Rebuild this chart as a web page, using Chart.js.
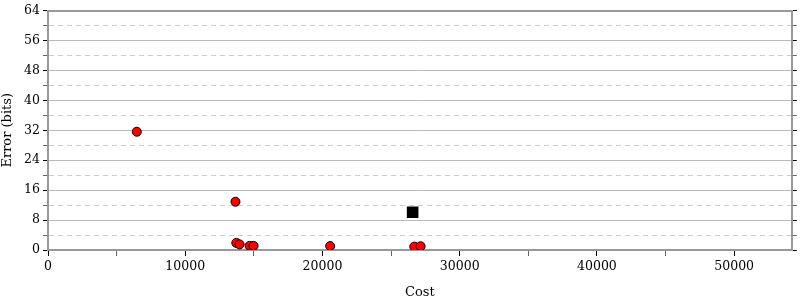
<!DOCTYPE html>
<html>
<head>
<meta charset="utf-8">
<script src="https://cdn.jsdelivr.net/npm/chart.js@4"></script>
<style>
  html, body { margin: 0; padding: 0; background: #fff; }
  #wrap { width: 800px; height: 300px; }
</style>
</head>
<body>
<div id="wrap"><canvas id="costChart" width="800" height="300"></canvas></div>
<script>
// red points: cost vs error
const costs = [6470, 13660, 13720, 13960, 14690, 14980, 20560, 26690, 27150];
const errors = [31.6, 12.9, 1.9, 1.5, 1.1, 1.1, 1.05, 0.9, 1.0];
// black square point
const refCost = [26570];
const refError = [10.1];

// tick values (minor + major), labels only on the major ones
const xTicks = [0, 5000, 10000, 15000, 20000, 25000, 30000, 35000, 40000, 45000, 50000];
const yTicks = [0, 4, 8, 12, 16, 20, 24, 28, 32, 36, 40, 44, 48, 52, 56, 60, 64];

const xMax = 54200;
const yMax = 64;

const serif = "'DejaVu Serif', serif";

const redPoints = costs.map((c, i) => ({ x: c, y: errors[i] }));
const blackPoints = refCost.map((c, i) => ({ x: c, y: refError[i] }));

const setTicks = (list) => (scale) => {
  scale.ticks = list.map((v) => ({ value: v }));
};
const isMajorX = (c) => c.tick && c.tick.value % 10000 === 0;
const isMajorY = (c) => c.tick && c.tick.value % 8 === 0;

const ctx = document.getElementById('costChart').getContext('2d');
new Chart(ctx, {
  type: 'scatter',
  data: {
    datasets: [
      {
        label: 'ref',
        data: blackPoints,
        pointStyle: 'rect',
        pointRadius: 8.2,
        backgroundColor: '#000',
        borderColor: '#000',
        borderWidth: 0,
      },
      {
        label: 'points',
        data: redPoints,
        pointRadius: 4.5,
        backgroundColor: '#ff0000',
        borderColor: '#000',
        borderWidth: 1,
      },
    ],
  },
  options: {
    responsive: false,
    animation: false,
    layout: { padding: 0 },
    plugins: {
      legend: { display: false },
      tooltip: { enabled: false },
    },
    scales: {
      x: {
        type: 'linear',
        position: 'bottom',
        min: 0,
        max: xMax,
        afterBuildTicks: setTicks(xTicks),
        afterFit: (scale) => { scale.height = 50; },
        ticks: {
          autoSkip: false,
          maxRotation: 0,
          color: '#000',
          padding: 3,
          font: { family: serif, size: 12.5 },
          callback: (v) => (v % 10000 === 0 ? String(v) : ''),
        },
        grid: {
          drawOnChartArea: false,
          tickLength: 6,
          tickColor: (c) => (isMajorX(c) ? '#000' : '#666'),
        },
        border: { color: '#999', width: 2 },
        title: {
          display: true,
          text: 'Cost',
          color: '#000',
          padding: { top: 8, bottom: 0 },
          font: { family: serif, size: 13 },
        },
      },
      x2: {
        type: 'linear',
        position: 'top',
        min: 0,
        max: xMax,
        afterFit: (scale) => { scale.height = 7; },
        ticks: { display: false },
        grid: { drawOnChartArea: false, drawTicks: false },
        border: { color: '#999', width: 2 },
      },
      y: {
        type: 'linear',
        position: 'left',
        min: 0,
        max: yMax,
        afterBuildTicks: setTicks(yTicks),
        afterFit: (scale) => { scale.width = 48; },
        ticks: {
          autoSkip: false,
          color: '#000',
          padding: 3,
          font: { family: serif, size: 12.5 },
          callback: (v) => (v % 8 === 0 ? String(v) : ''),
        },
        grid: {
          tickLength: 5,
          color: (c) => (isMajorY(c) ? '#bbb' : '#ccc'),
          tickColor: (c) => (isMajorY(c) ? '#000' : '#666'),
        },
        border: {
          color: '#999',
          width: 2,
          dash: (c) => (c.tick && !isMajorY(c) ? [5, 4] : []),
        },
        title: {
          display: true,
          text: 'Error (bits)',
          color: '#000',
          padding: { top: 0, bottom: 4 },
          font: { family: serif, size: 13 },
        },
      },
      y2: {
        type: 'linear',
        position: 'right',
        min: 0,
        max: yMax,
        afterBuildTicks: setTicks(yTicks),
        afterFit: (scale) => { scale.width = 7; },
        ticks: { display: false },
        grid: {
          drawOnChartArea: false,
          tickLength: 5,
          tickColor: (c) => (isMajorY(c) ? '#000' : '#666'),
        },
        border: { color: '#999', width: 2 },
      },
    },
  },
});
</script>
</body>
</html>
